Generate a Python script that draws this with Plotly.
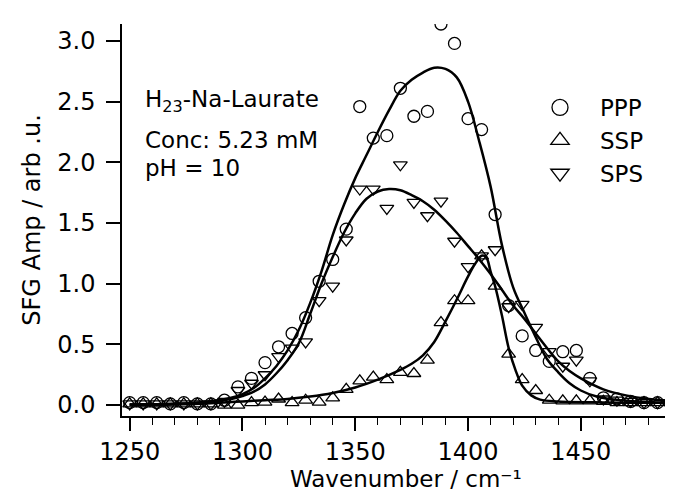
import plotly.graph_objects as go

# ---- measured data ----
wavenumber = [1250, 1256, 1262, 1268, 1274, 1280, 1286, 1292, 1298, 1304,
              1310, 1316, 1322, 1328, 1334, 1340, 1346, 1352, 1358, 1364,
              1370, 1376, 1382, 1388, 1394, 1400, 1406, 1412, 1418, 1424,
              1430, 1436, 1442, 1448, 1454, 1460, 1466, 1472, 1478, 1484, 1490]

ppp = [0.02, 0.02, 0.02, 0.01, 0.02, 0.01, 0.01, 0.04, 0.15, 0.22,
       0.35, 0.48, 0.59, 0.72, 1.02, 1.20, 1.45, 2.46, 2.20, 2.22,
       2.61, 2.38, 2.42, 3.14, 2.98, 2.36, 2.27, 1.57, 0.82, 0.57,
       0.45, 0.36, 0.44, 0.45, 0.22, 0.06, 0.05, 0.03, 0.02, 0.02, 0.01]

ssp = [0.01, 0.01, 0.01, 0.01, 0.01, 0.01, 0.01, 0.00, 0.00, 0.02,
       0.025, 0.05, 0.02, 0.04, 0.025, 0.06, 0.13, 0.20, 0.23, 0.21,
       0.27, 0.26, 0.37, 0.68, 0.86, 0.86, 1.23, 0.98, 0.42, 0.21,
       0.12, 0.04, 0.035, 0.035, 0.035, 0.03, 0.02, 0.02, 0.02, 0.02, 0.02]

sps = [0.01, 0.01, 0.01, 0.01, 0.01, 0.01, 0.01, 0.03, 0.12, 0.18,
       0.25, 0.40, 0.47, 0.52, 0.86, 0.98, 1.36, 1.78, 1.78, 1.62,
       1.98, 1.67, 1.56, 1.68, 1.35, 1.14, 1.23, 1.28, 0.81, 0.83,
       0.64, 0.44, 0.32, 0.37, 0.20, 0.05, 0.04, 0.03, 0.02, 0.02, 0.01]

# ---- fit curves ----
fit_ppp_x = [1250, 1270, 1285, 1295, 1300, 1305, 1310, 1315, 1320, 1325,
             1330, 1335, 1340, 1345, 1350, 1355, 1360, 1365, 1370, 1375,
             1380, 1385, 1390, 1395, 1400, 1405, 1410, 1415, 1420, 1425,
             1430, 1435, 1440, 1445, 1450, 1457, 1465, 1475, 1494]
fit_ppp_y = [0.005, 0.01, 0.03, 0.06, 0.09, 0.14, 0.22, 0.32, 0.45, 0.62,
             0.84, 1.10, 1.40, 1.65, 1.87, 2.06, 2.25, 2.43, 2.59, 2.68,
             2.74, 2.78, 2.77, 2.70, 2.50, 2.17, 1.80, 1.32, 0.97, 0.76,
             0.56, 0.38, 0.27, 0.18, 0.12, 0.07, 0.045, 0.03, 0.015]

fit_sps_x = [1250, 1270, 1285, 1295, 1300, 1305, 1310, 1315, 1320, 1325,
             1330, 1335, 1340, 1345, 1350, 1355, 1360, 1365, 1370, 1375,
             1380, 1385, 1390, 1395, 1400, 1405, 1410, 1415, 1420, 1425,
             1430, 1435, 1440, 1445, 1450, 1460, 1470, 1480, 1494]
fit_sps_y = [0.005, 0.01, 0.025, 0.05, 0.075, 0.11, 0.17, 0.26, 0.37, 0.51,
             0.75, 1.00, 1.22, 1.42, 1.58, 1.70, 1.76, 1.78, 1.77, 1.73,
             1.68, 1.61, 1.52, 1.42, 1.31, 1.20, 1.08, 0.95, 0.82, 0.71,
             0.59, 0.47, 0.36, 0.28, 0.22, 0.13, 0.08, 0.05, 0.03]

fit_ssp_x = [1250, 1270, 1290, 1300, 1310, 1320, 1330, 1340, 1350, 1360,
             1370, 1375, 1380, 1385, 1390, 1395, 1400, 1403, 1406, 1408,
             1410, 1412, 1415, 1418, 1421, 1424, 1428, 1432, 1440, 1460, 1494]
fit_ssp_y = [0.0, 0.005, 0.02, 0.03, 0.04, 0.05, 0.07, 0.10, 0.145, 0.21,
             0.29, 0.34, 0.41, 0.52, 0.69, 0.87, 1.06, 1.16, 1.23, 1.22,
             1.10, 0.98, 0.74, 0.47, 0.29, 0.16, 0.08, 0.045, 0.03, 0.022, 0.02]

series_names = ["PPP", "SSP", "SPS"]
series_symbols = ["circle-open", "triangle-up-open", "triangle-down-open"]

FONT = "DejaVu Sans"

fig = go.Figure()

for fx, fy in [(fit_ppp_x, fit_ppp_y), (fit_sps_x, fit_sps_y), (fit_ssp_x, fit_ssp_y)]:
    fig.add_trace(go.Scatter(x=fx, y=fy, mode="lines",
                             line=dict(color="black", width=2.5, shape="spline", smoothing=1.0),
                             showlegend=False, hoverinfo="skip"))

for name, vals, sym in zip(series_names, [ppp, ssp, sps], series_symbols):
    fig.add_trace(go.Scatter(x=wavenumber, y=vals, mode="markers", name=name,
                             marker=dict(symbol=sym, size=12, color="black",
                                         line=dict(color="black", width=1.3)),
                             showlegend=False))
    # legend entry with larger symbol
    fig.add_trace(go.Scatter(x=[None], y=[None], mode="markers", name=name,
                             marker=dict(symbol=sym, size=18, color="black",
                                         line=dict(color="black", width=1.3)),
                             showlegend=True))

W, H = 673, 491
L, R, T, B = 114, 0, 16, 83
pw, ph = W - L - R, H - T - B

def px(xp):
    return (xp - L) / pw

def py(yp):
    return (H - B - yp) / ph

annots = [
    ("H<sub>23</sub>-Na-Laurate", 93.3),
    ("Conc: 5.23 mM", 132),
    ("pH = 10", 160),
]
for txt, yy in annots:
    fig.add_annotation(text=txt, xref="paper", yref="paper", x=px(135), y=py(yy),
                       xanchor="left", yanchor="middle", showarrow=False,
                       font=dict(family=FONT, size=23, color="black"))

# x-axis title as an annotation so it stays inside the page
fig.add_annotation(text="Wavenumber / cm\u207b\u00b9", xref="paper", yref="paper",
                   x=px(398), y=py(486), xanchor="center", yanchor="bottom",
                   showarrow=False, font=dict(family=FONT, size=23, color="black"))

fig.update_layout(
    template="none",
    width=W, height=H,
    margin=dict(l=L, r=R, t=T, b=B, pad=0),
    paper_bgcolor="white", plot_bgcolor="white",
    font=dict(family=FONT, size=24, color="black"),
    legend=dict(x=px(512), y=py(78), xanchor="left", yanchor="top",
                font=dict(family=FONT, size=23, color="black"),
                itemwidth=70, itemsizing="trace", bgcolor="rgba(0,0,0,0)"),
    xaxis=dict(range=[1246.6, 1494.4], showline=True, linecolor="black", linewidth=1.5,
               automargin=False,
               ticks="outside", ticklen=13, tickwidth=1.5, tickcolor="black",
               tick0=1250, dtick=50, showgrid=False, zeroline=False,
               tickfont=dict(family=FONT, size=24, color="black"),
               ticklabelstandoff=0,
               minor=dict(ticks="outside", ticklen=7, tickwidth=1.2, tickcolor="black",
                          dtick=10, tick0=1250, showgrid=False)),
    yaxis=dict(range=[-0.09, 3.14], showline=True, linecolor="black", linewidth=1.5,
               automargin=False,
               ticks="outside", ticklen=14, tickwidth=1.5, tickcolor="black",
               tick0=0, dtick=0.5, tickformat=".1f", showgrid=False, zeroline=False,
               tickfont=dict(family=FONT, size=24, color="black"),
               ticklabelstandoff=6,
               title=dict(text="SFG Amp / arb .u.", standoff=10,
                          font=dict(family=FONT, size=24, color="black"))),
)

fig.write_html("out.html")
